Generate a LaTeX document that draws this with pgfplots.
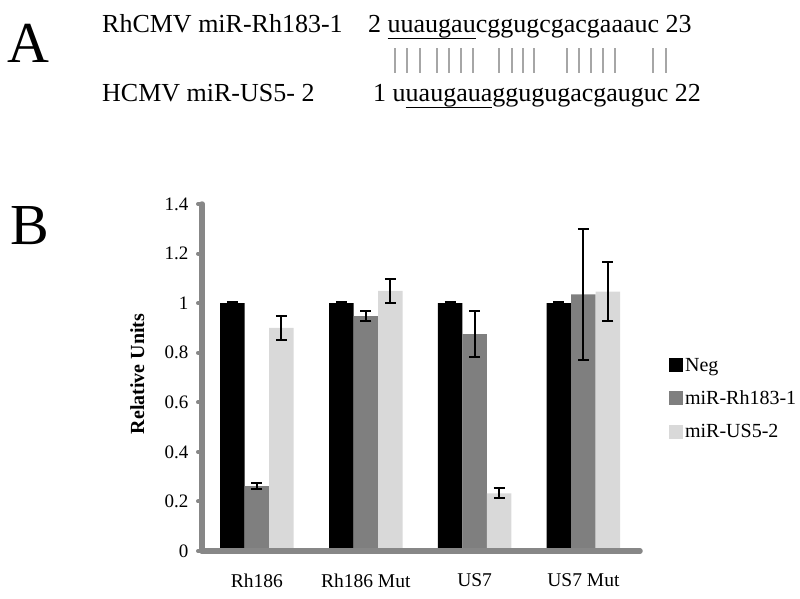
\documentclass[border=0pt]{standalone}
\usepackage{pgfplots}
\pgfplotsset{compat=1.18}
\usepackage{fontspec}
\setmainfont{Liberation Serif}
\definecolor{axgray}{HTML}{878787}
\definecolor{midgray}{HTML}{7F7F7F}
\definecolor{lightbar}{HTML}{D9D9D9}
\definecolor{pairgray}{HTML}{A6A6A6}
\newcommand\ul[1]{\setbox0\hbox{#1}\rlap{\rule[-6.5pt]{\wd0}{1.8pt}}\box0}
\begin{document}
\begin{tikzpicture}[x=1pt,y=1pt]
% Panel A
\node[anchor=base west, inner sep=0, font=\fontsize{58}{60}\selectfont] at (7,535) {A};
\node[anchor=base west, inner sep=0, font=\fontsize{26}{30}\selectfont] at (102,565) {RhCMV miR-Rh183-1};
\node[anchor=base west, inner sep=0, font=\fontsize{26}{30}\selectfont] at (368,565) {2 \ul{uuaugau}cggugcgacgaaauc 23};
\node[anchor=base west, inner sep=0, font=\fontsize{26}{30}\selectfont] at (102,496) {HCMV miR-US5- 2};
\node[anchor=base west, inner sep=0, font=\fontsize{26}{30}\selectfont] at (373,496) {1 u\ul{uaugaua}ggugugacgauguc 22};
\foreach \x in {395,407,420,437,449,461,473,499,512,523,534,567,579,591,603,615,653,666}
  \draw[pairgray, line width=2pt] (\x,525) -- (\x,550);
% Panel B
\node[anchor=base west, inner sep=0, font=\fontsize{58}{60}\selectfont] at (10,353) {B};
\begin{axis}[
  at={(202pt,47pt)}, anchor=south west,
  scale only axis, width=438pt, height=347pt,
  xmin=-0.505, xmax=3.52, ymin=0, ymax=1.4,
  ybar=0pt, bar width=0.225,
  axis x line*=bottom, axis y line*=left,
  axis line style={axgray, line width=5.5pt, line cap=round, -},
  axis on top,
  xtick={0,1,2,3},
  xticklabels={Rh186, Rh186 Mut, US7, US7 Mut},
  xtick style={draw=none},
  ytick={0,0.2,0.4,0.6,0.8,1,1.2,1.4},
  tick align=outside,
  major tick length=4pt,
  ytick style={axgray, line width=4pt, line cap=round},
  /pgf/number format/assume math mode=true,
  yticklabel style={font=\fontsize{19}{22}\selectfont, xshift=-6pt},
  xticklabel style={font=\fontsize{19.5}{22}\selectfont, yshift=-15pt},
  ylabel={Relative Units},
  ylabel style={font=\bfseries\fontsize{20}{22}\selectfont, at={(axis description cs:-0.148,0.51)}, anchor=center},
  legend cell align=left,
  legend style={at={(axis description cs:1.066,0.562)}, anchor=north west, draw=none, fill=none, inner sep=0pt,
    font=\fontsize{20}{24}\selectfont, row sep=14pt},
  error bars/y dir=both, error bars/y explicit,
  error bars/error bar style={line width=2pt, black},
  error bars/error mark options={rotate=90, mark size=5.5pt, line width=2pt, black},
]
\addplot[fill=black, draw=none, legend image code/.code={\fill[black] (0pt,-7pt) rectangle (14pt,7pt);}]
  coordinates {(0,1) +- (0,0.004) (1,1) +- (0,0.004) (2,1) +- (0,0.004) (3,1) +- (0,0.004)};
\addplot[fill=midgray, draw=none, legend image code/.code={\fill[midgray] (0pt,-7pt) rectangle (14pt,7pt);}]
  coordinates {(0,0.262) +- (0,0.011) (1,0.948) +- (0,0.02) (2,0.875) +- (0,0.094) (3,1.035) +- (0,0.265)};
\addplot[fill=lightbar, draw=none, legend image code/.code={\fill[lightbar] (0pt,-7pt) rectangle (14pt,7pt);}]
  coordinates {(0,0.90) +- (0,0.048) (1,1.05) +- (0,0.048) (2,0.233) +- (0,0.02) (3,1.046) +- (0,0.12)};
\legend{Neg, miR-Rh183-1, miR-US5-2}
\end{axis}
\pgfresetboundingbox
\path (0,0) rectangle (800,598);
\end{tikzpicture}
\end{document}
